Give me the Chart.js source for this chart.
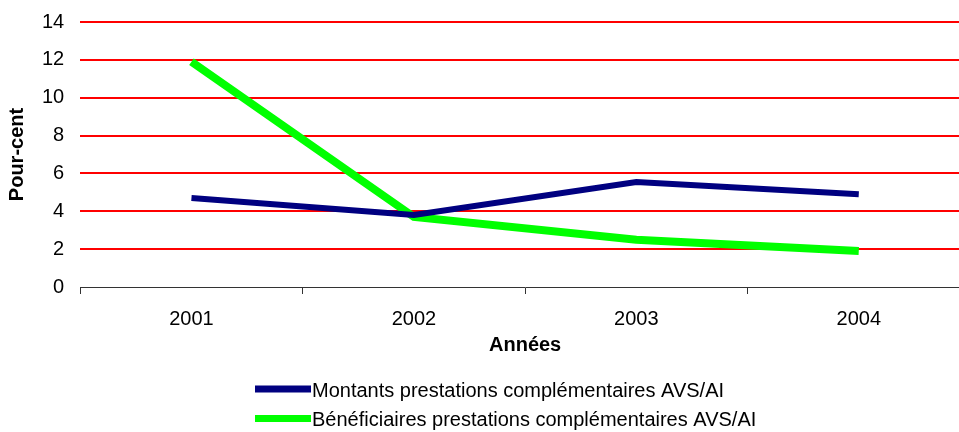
<!DOCTYPE html>
<html>
<head>
<meta charset="utf-8">
<script src="https://cdn.jsdelivr.net/npm/chart.js@4/dist/chart.umd.min.js"></script>
<style>
  body { margin: 0; overflow: hidden; background: #fff; }
  #wrap { width: 970px; height: 432px; }
</style>
</head>
<body>
<div id="wrap"><canvas id="chart"></canvas></div>
<script>
// Données
const years = ["2001", "2002", "2003", "2004"];
const montants = [4.7, 3.8, 5.55, 4.9];
const beneficiaires = [11.9, 3.7, 2.5, 1.9];
const yTicks = [0, 2, 4, 6, 8, 10, 12, 14];

const seriesNames = [
  "Montants prestations complémentaires AVS/AI",
  "Bénéficiaires prestations complémentaires AVS/AI"
];

const font = "'Liberation Sans', Arial, sans-serif";

// Légende dessinée à la main (deux lignes alignées à gauche)
const legendPlugin = {
  id: "bottomLegend",
  afterDraw(chart) {
    const ctx = chart.ctx;
    ctx.save();
    ctx.font = "20px " + font;
    ctx.textBaseline = "middle";
    ctx.fillStyle = "#000";
    chart.data.datasets.forEach((ds, i) => {
      const y = 390 + i * 29.5;
      ctx.strokeStyle = ds.borderColor;
      ctx.lineWidth = 7;
      ctx.lineCap = "butt";
      ctx.beginPath();
      ctx.moveTo(255, y - 1);
      ctx.lineTo(311, y - 1);
      ctx.stroke();
      ctx.fillText(ds.label, 312, y + 1);
    });
    ctx.restore();
  }
};

new Chart(document.getElementById("chart"), {
  type: "line",
  data: {
    labels: years,
    datasets: [
      {
        label: seriesNames[0],
        data: montants,
        borderColor: "#000080",
        borderWidth: 6,
        pointRadius: 0,
        tension: 0,
        borderJoinStyle: "miter"
      },
      {
        label: seriesNames[1],
        data: beneficiaires,
        borderColor: "#00FF00",
        borderWidth: 8,
        pointRadius: 0,
        tension: 0,
        borderJoinStyle: "miter"
      }
    ]
  },
  options: {
    responsive: true,
    maintainAspectRatio: false,
    animation: false,
    layout: { padding: { top: 20, left: 1, right: 0, bottom: 71 } },
    plugins: {
      legend: { display: false },
      tooltip: { enabled: false }
    },
    scales: {
      x: {
        offset: true,
        grid: {
          offset: true,
          drawOnChartArea: false,
          drawTicks: true,
          tickLength: 7,
          color: "#333"
        },
        border: { color: "#333", width: 1 },
        ticks: { color: "#000", font: { size: 20, family: font }, padding: 13 },
        title: {
          display: true,
          text: "Années",
          color: "#000",
          font: { size: 20, weight: "bold", family: font },
          padding: { top: -11, bottom: 4 }
        }
      },
      y: {
        min: 0,
        max: 14,
        afterBuildTicks: (axis) => { axis.ticks = yTicks.map(v => ({ value: v })); },
        grid: {
          drawTicks: false,
          lineWidth: 2,
          color: (c) => c.tick && c.tick.value === 0 ? "rgba(0,0,0,0)" : "#FF0000"
        },
        border: { display: false },
        ticks: { color: "#000", font: { size: 20, family: font, lineHeight: 0.6 }, padding: 16 },
        title: {
          display: true,
          text: "Pour-cent",
          color: "#000",
          font: { size: 20, weight: "bold", family: font },
          padding: { bottom: -3 }
        }
      }
    }
  },
  plugins: [legendPlugin]
});
</script>
</body>
</html>
